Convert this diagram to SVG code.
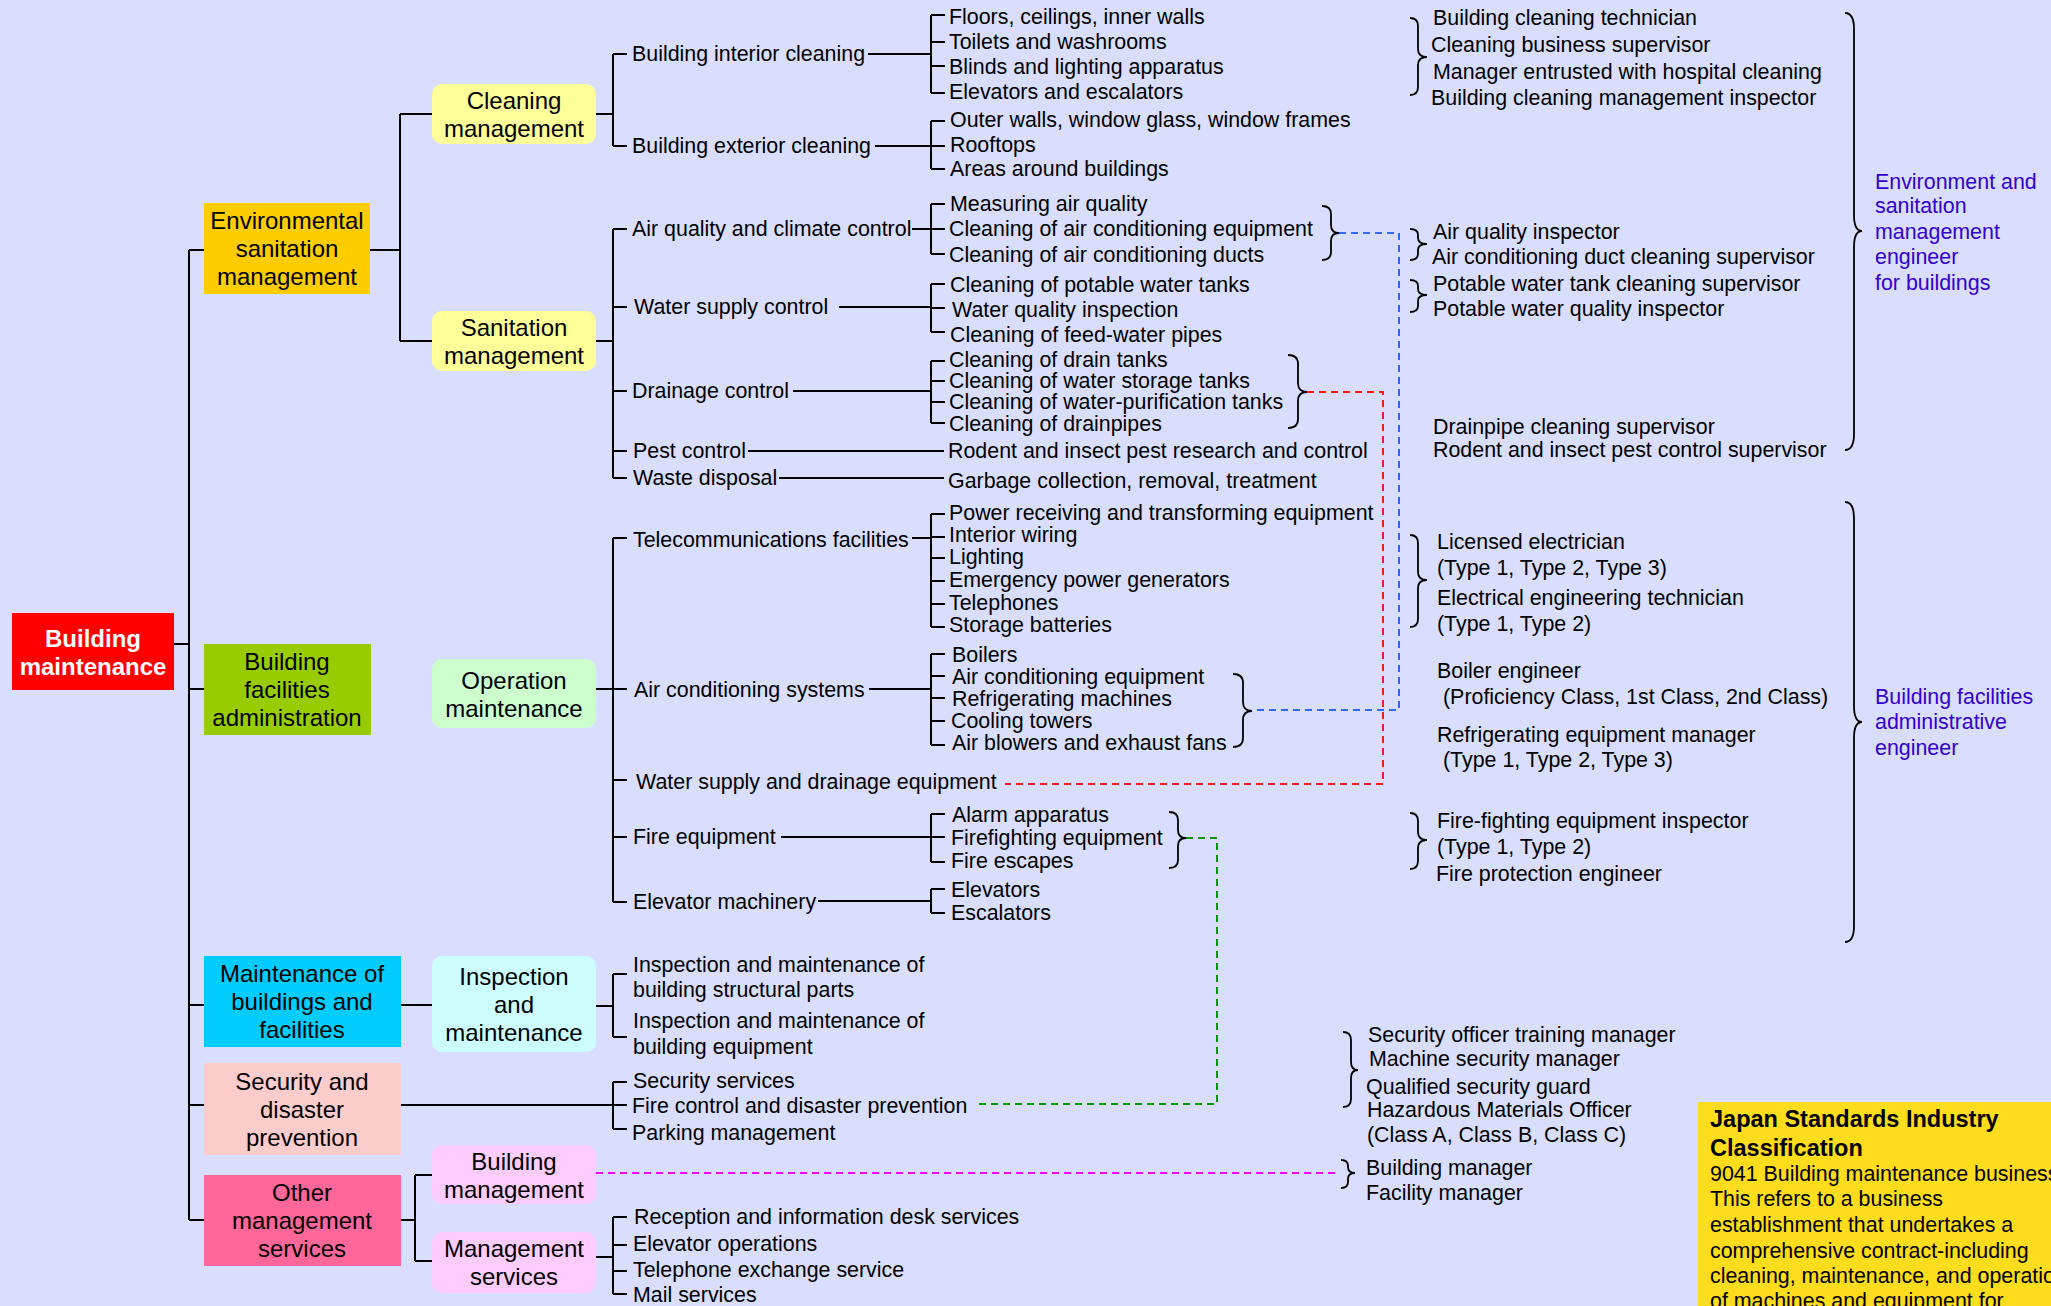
<svg xmlns="http://www.w3.org/2000/svg" width="2051" height="1306" viewBox="0 0 2051 1306">
<style>
.ln{stroke:#000;stroke-width:2;fill:none}
.br{stroke:#000;stroke-width:1.8;fill:none}
.d{stroke-width:2;fill:none;stroke-dasharray:7 5}
text{font-family:"Liberation Sans",Arial,sans-serif;font-size:21.4px;fill:#000}
.n{font-size:24px;text-anchor:middle}
.b{font-weight:bold}
.w{fill:#fff}
.p{fill:#3300CC}
</style>
<rect x="0" y="0" width="2051" height="1306" fill="#D9DEFF"/>

<g id="connectors">
<path class="ln" d="M174,644H189M189,250V1220M189,250H204M189,689H204M189,1005H204M189,1105H204M189,1220H204"/>
<path class="ln" d="M370,250H400M400,114V341M400,114H432M400,341H432"/>
<path class="ln" d="M596,114H613M613,54V146M613,54H627M613,146H627"/>
<path class="ln" d="M868,54H931M931,15V93M931,15H945M931,42H945M931,66H945M931,93H945"/>
<path class="ln" d="M875,146H931M931,121V169M931,121H945M931,146H945M931,169H945"/>
<path class="ln" d="M596,341H613M613,229V478M613,229H627M613,307H627M613,391H627M613,451H627M613,478H627"/>
<path class="ln" d="M912,229H931M931,204V254M931,204H945M931,229H945M931,254H945"/>
<path class="ln" d="M839,307H931M931,284V332M931,284H945M931,308H945M931,332H945"/>
<path class="ln" d="M793,391H931M931,361V423M931,361H945M931,381H945M931,402H945M931,423H945"/>
<path class="ln" d="M748,451H944M779,478H944"/>
<path class="ln" d="M596,689H613M613,538V902M613,538H627M613,689H627M613,780H627M613,837H627M613,902H627"/>
<path class="ln" d="M912,538H931M931,514V627M931,514H945M931,537H945M931,558H945M931,581H945M931,604H945M931,627H945"/>
<path class="ln" d="M869,689H931M931,654V745M931,654H945M931,676H945M931,698H945M931,721H945M931,745H945"/>
<path class="ln" d="M781,837H931M931,814V862M931,814H945M931,837H945M931,862H945"/>
<path class="ln" d="M818,901H931M931,889V913M931,889H945M931,913H945"/>
<path class="ln" d="M401,1005H432M596,1006H613M613,974V1037M613,974H627M613,1037H627"/>
<path class="ln" d="M401,1105H627M613,1082V1129M613,1082H627M613,1129H627"/>
<path class="ln" d="M401,1220H415M415,1175V1261M415,1175H432M415,1261H432"/>
<path class="ln" d="M596,1257H613M613,1217V1294M613,1217H627M613,1245H627M613,1271H627M613,1294H627"/>
<!-- braces -->
<path class="br" d="M1322,206Q1331,206 1331,214V225Q1331,233 1339,233Q1331,233 1331,241V252Q1331,260 1322,260"/>
<path class="br" d="M1288,355Q1298,355 1298,364V383Q1298,392 1307,392Q1298,392 1298,401V419Q1298,428 1288,428"/>
<path class="br" d="M1233,674Q1243,674 1243,683V702Q1243,711 1252,711Q1243,711 1243,720V738Q1243,747 1233,747"/>
<path class="br" d="M1169,812Q1178,812 1178,820V830Q1178,838 1186,838Q1178,838 1178,846V860Q1178,868 1169,868"/>
<path class="br" d="M1410,18Q1418,18 1418,26V49Q1418,57 1427,57Q1418,57 1418,65V87Q1418,95 1410,95"/>
<path class="br" d="M1410,229Q1418,229 1418,235V238Q1418,244 1427,244Q1418,244 1418,250V254Q1418,260 1410,260"/>
<path class="br" d="M1410,280Q1418,280 1418,286V289Q1418,295 1427,295Q1418,295 1418,301V306Q1418,312 1410,312"/>
<path class="br" d="M1845,13Q1854,13 1854,29V215Q1854,231 1862,231Q1854,231 1854,247V434Q1854,450 1845,450"/>
<path class="br" d="M1410,535Q1418,535 1418,543V572Q1418,580 1427,580Q1418,580 1418,588V619Q1418,627 1410,627"/>
<path class="br" d="M1410,813Q1418,813 1418,821V832Q1418,840 1427,840Q1418,840 1418,848V861Q1418,869 1410,869"/>
<path class="br" d="M1845,502Q1854,502 1854,518V706Q1854,722 1862,722Q1854,722 1854,738V926Q1854,942 1845,942"/>
<path class="br" d="M1343,1032Q1351,1032 1351,1040V1062Q1351,1070 1358,1070Q1351,1070 1351,1078V1099Q1351,1107 1343,1107"/>
<path class="br" d="M1341,1160Q1348,1160 1348,1166V1167Q1348,1173 1355,1173Q1348,1173 1348,1179V1182Q1348,1188 1341,1188"/>
<!-- dashed links -->
<path class="d" stroke="#3366FF" d="M1339,233H1399V710H1252"/>
<path class="d" stroke="#FF1A1A" d="M1307,392H1383V784H1005"/>
<path class="d" stroke="#009900" d="M1186,838H1217V1104H975"/>
<path class="d" stroke="#FF00FF" d="M596,1173H1336"/>
</g>

<g id="root"><rect x="12" y="613" width="162" height="77" fill="#FF0000"/><text class="n b w" x="93" y="647">Building</text><text class="n b w" x="93" y="675">maintenance</text></g>

<g id="env"><rect x="204" y="203" width="166" height="91" fill="#FFCC00"/><text class="n" x="287" y="229">Environmental</text><text class="n" x="287" y="257">sanitation</text><text class="n" x="287" y="285">management</text></g>
<g id="bfa"><rect x="204" y="644" width="167" height="91" fill="#99CC00"/><text class="n" x="287" y="670">Building</text><text class="n" x="287" y="698">facilities</text><text class="n" x="287" y="726">administration</text></g>
<g id="mbf"><rect x="204" y="956" width="197" height="91" fill="#00CCFF"/><text class="n" x="302" y="982">Maintenance of</text><text class="n" x="302" y="1010">buildings and</text><text class="n" x="302" y="1038">facilities</text></g>
<g id="sdp"><rect x="204" y="1063" width="197" height="92" fill="#FFCCCC"/><text class="n" x="302" y="1090">Security and</text><text class="n" x="302" y="1118">disaster</text><text class="n" x="302" y="1146">prevention</text></g>
<g id="oms"><rect x="204" y="1175" width="197" height="91" fill="#FF6699"/><text class="n" x="302" y="1201">Other</text><text class="n" x="302" y="1229">management</text><text class="n" x="302" y="1257">services</text></g>

<g id="cleaning"><rect x="432" y="84" width="164" height="60" rx="10" fill="#FFFF99"/><text class="n" x="514" y="109">Cleaning</text><text class="n" x="514" y="137">management</text></g>
<g id="sanitation"><rect x="432" y="311" width="164" height="60" rx="10" fill="#FFFF99"/><text class="n" x="514" y="336">Sanitation</text><text class="n" x="514" y="364">management</text></g>
<g id="operation"><rect x="432" y="659" width="164" height="69" rx="10" fill="#CCFFCC"/><text class="n" x="514" y="689">Operation</text><text class="n" x="514" y="717">maintenance</text></g>
<g id="inspection"><rect x="432" y="956" width="164" height="96" rx="10" fill="#CCFFFF"/><text class="n" x="514" y="985">Inspection</text><text class="n" x="514" y="1013">and</text><text class="n" x="514" y="1041">maintenance</text></g>
<g id="bldgmgmt"><rect x="432" y="1145" width="164" height="59" rx="10" fill="#FFCCFF"/><text class="n" x="514" y="1170">Building</text><text class="n" x="514" y="1198">management</text></g>
<g id="mgmtserv"><rect x="432" y="1232" width="164" height="61" rx="10" fill="#FFCCFF"/><text class="n" x="514" y="1257">Management</text><text class="n" x="514" y="1285">services</text></g>

<g id="l3-cleaning">
<g id="interior"><text x="632" y="61">Building interior cleaning</text></g>
<g id="exterior"><text x="632" y="153">Building exterior cleaning</text></g>
</g>
<g id="leaves-cleaning">
<g id="i1"><text x="949" y="24">Floors, ceilings, inner walls</text></g>
<g id="i2"><text x="949" y="49">Toilets and washrooms</text></g>
<g id="i3"><text x="949" y="74">Blinds and lighting apparatus</text></g>
<g id="i4"><text x="949" y="99">Elevators and escalators</text></g>
<g id="e1"><text x="950" y="127">Outer walls, window glass, window frames</text></g>
<g id="e2"><text x="950" y="152">Rooftops</text></g>
<g id="e3"><text x="950" y="176">Areas around buildings</text></g>
</g>

<g id="l3-sanitation">
<g id="airq"><text x="632" y="236">Air quality and climate control</text></g>
<g id="watersup"><text x="634" y="314">Water supply control</text></g>
<g id="drain"><text x="632" y="398">Drainage control</text></g>
<g id="pest"><text x="633" y="458">Pest control</text></g>
<g id="waste"><text x="633" y="485">Waste disposal</text></g>
</g>
<g id="leaves-sanitation">
<g id="a1"><text x="950" y="211">Measuring air quality</text></g>
<g id="a2"><text x="949" y="236">Cleaning of air conditioning equipment</text></g>
<g id="a3"><text x="949" y="262">Cleaning of air conditioning ducts</text></g>
<g id="w1"><text x="950" y="292">Cleaning of potable water tanks</text></g>
<g id="w2"><text x="952" y="317">Water quality inspection</text></g>
<g id="w3"><text x="950" y="342">Cleaning of feed-water pipes</text></g>
<g id="d1"><text x="949" y="367">Cleaning of drain tanks</text></g>
<g id="d2"><text x="949" y="388">Cleaning of water storage tanks</text></g>
<g id="d3"><text x="949" y="409">Cleaning of water-purification tanks</text></g>
<g id="d4"><text x="949" y="431">Cleaning of drainpipes</text></g>
<g id="p1"><text x="948" y="458">Rodent and insect pest research and control</text></g>
<g id="g1"><text x="948" y="488">Garbage collection, removal, treatment</text></g>
</g>

<g id="l3-operation">
<g id="telecom"><text x="633" y="547">Telecommunications facilities</text></g>
<g id="acsys"><text x="634" y="697">Air conditioning systems</text></g>
<g id="wsde"><text x="636" y="789">Water supply and drainage equipment</text></g>
<g id="fireeq"><text x="633" y="844">Fire equipment</text></g>
<g id="elev"><text x="633" y="909">Elevator machinery</text></g>
</g>
<g id="leaves-operation">
<g id="t1"><text x="949" y="520">Power receiving and transforming equipment</text></g>
<g id="t2"><text x="949" y="542">Interior wiring</text></g>
<g id="t3"><text x="949" y="564">Lighting</text></g>
<g id="t4"><text x="949" y="587">Emergency power generators</text></g>
<g id="t5"><text x="949" y="610">Telephones</text></g>
<g id="t6"><text x="949" y="632">Storage batteries</text></g>
<g id="c1"><text x="952" y="662">Boilers</text></g>
<g id="c2"><text x="952" y="684">Air conditioning equipment</text></g>
<g id="c3"><text x="952" y="706">Refrigerating machines</text></g>
<g id="c4"><text x="951" y="728">Cooling towers</text></g>
<g id="c5"><text x="952" y="750">Air blowers and exhaust fans</text></g>
<g id="f1"><text x="952" y="822">Alarm apparatus</text></g>
<g id="f2"><text x="951" y="845">Firefighting equipment</text></g>
<g id="f3"><text x="951" y="868">Fire escapes</text></g>
<g id="v1"><text x="951" y="897">Elevators</text></g>
<g id="v2"><text x="951" y="920">Escalators</text></g>
</g>

<g id="l3-inspection">
<g id="insp1"><text x="633" y="972">Inspection and maintenance of</text><text x="633" y="997">building structural parts</text></g>
<g id="insp2"><text x="633" y="1028">Inspection and maintenance of</text><text x="633" y="1054">building equipment</text></g>
</g>
<g id="l3-security">
<g id="s1"><text x="633" y="1088">Security services</text></g>
<g id="s2"><text x="632" y="1113">Fire control and disaster prevention</text></g>
<g id="s3"><text x="632" y="1140">Parking management</text></g>
</g>
<g id="l3-mgmtserv">
<g id="m1"><text x="634" y="1224">Reception and information desk services</text></g>
<g id="m2"><text x="633" y="1251">Elevator operations</text></g>
<g id="m3"><text x="633" y="1277">Telephone exchange service</text></g>
<g id="m4"><text x="633" y="1302">Mail services</text></g>
</g>

<g id="qual-env">
<g id="q1"><text x="1433" y="25">Building cleaning technician</text><text x="1431" y="52">Cleaning business supervisor</text><text x="1433" y="79">Manager entrusted with hospital cleaning</text><text x="1431" y="105">Building cleaning management inspector</text></g>
<g id="q2"><text x="1433" y="239">Air quality inspector</text><text x="1432" y="264">Air conditioning duct cleaning supervisor</text></g>
<g id="q3"><text x="1433" y="291">Potable water tank cleaning supervisor</text><text x="1433" y="316">Potable water quality inspector</text></g>
<g id="q4"><text x="1433" y="434">Drainpipe cleaning supervisor</text><text x="1433" y="457">Rodent and insect pest control supervisor</text></g>
<g id="env-eng"><text class="p" x="1875" y="189">Environment and</text><text class="p" x="1875" y="213">sanitation</text><text class="p" x="1875" y="239">management</text><text class="p" x="1875" y="264">engineer</text><text class="p" x="1875" y="290">for buildings</text></g>
</g>

<g id="qual-bfa">
<g id="q5"><text x="1437" y="549">Licensed electrician</text><text x="1437" y="575">(Type 1, Type 2, Type 3)</text><text x="1437" y="605">Electrical engineering technician</text><text x="1437" y="631">(Type 1, Type 2)</text></g>
<g id="q6"><text x="1437" y="678">Boiler engineer</text><text x="1443" y="704">(Proficiency Class, 1st Class, 2nd Class)</text></g>
<g id="q7"><text x="1437" y="742">Refrigerating equipment manager</text><text x="1443" y="767">(Type 1, Type 2, Type 3)</text></g>
<g id="q8"><text x="1437" y="828">Fire-fighting equipment inspector</text><text x="1437" y="854">(Type 1, Type 2)</text><text x="1436" y="881">Fire protection engineer</text></g>
<g id="bfa-eng"><text class="p" x="1875" y="704">Building facilities</text><text class="p" x="1875" y="729">administrative</text><text class="p" x="1875" y="755">engineer</text></g>
</g>

<g id="qual-sec">
<g id="q9"><text x="1368" y="1042">Security officer training manager</text><text x="1369" y="1066">Machine security manager</text><text x="1366" y="1094">Qualified security guard</text><text x="1367" y="1117">Hazardous Materials Officer</text><text x="1367" y="1142">(Class A, Class B, Class C)</text></g>
<g id="q10"><text x="1366" y="1175">Building manager</text><text x="1366" y="1200">Facility manager</text></g>
</g>

<g id="jsic">
<rect x="1698" y="1102" width="360" height="210" fill="#FFDC1C"/>
<text class="b" x="1710" y="1127" style="font-size:23.5px">Japan Standards Industry</text>
<text class="b" x="1710" y="1156" style="font-size:23.5px">Classification</text>
<text x="1710" y="1181">9041 Building maintenance business</text>
<text x="1710" y="1206">This refers to a business</text>
<text x="1710" y="1232">establishment that undertakes a</text>
<text x="1710" y="1258">comprehensive contract-including</text>
<text x="1710" y="1283">cleaning, maintenance, and operation</text>
<text x="1710" y="1308">of machines and equipment for</text>
</g>
</svg>
